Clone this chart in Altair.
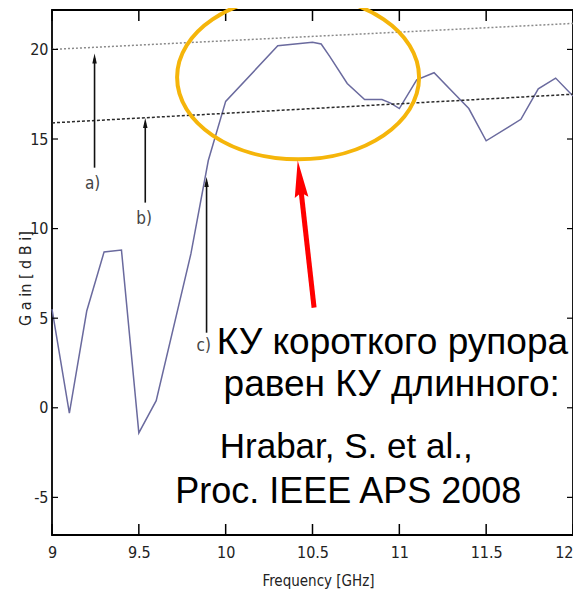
import altair as alt
import pandas as pd

# ---- data ----
freq = [9.0, 9.1, 9.2, 9.3, 9.4, 9.5, 9.6, 9.8, 9.9, 10.0, 10.3, 10.5, 10.55, 10.6,
        10.7, 10.8, 10.9, 10.95, 11.0, 11.1, 11.2, 11.33, 11.4, 11.5, 11.7, 11.8, 11.9, 12.0]
gain = [5.5, -0.3, 5.4, 8.7, 8.8, -1.4, 0.4, 8.6, 13.8, 17.1, 20.2, 20.4, 20.3, 19.6,
        18.1, 17.2, 17.2, 17.0, 16.7, 18.3, 18.7, 17.4, 16.7, 14.9, 16.1, 17.8, 18.4, 17.4]

x_ticks = [9, 9.5, 10, 10.5, 11, 11.5, 12]
y_ticks = [-5, 0, 5, 10, 15, 20]

ref_a_f = [9, 12]
ref_a_g = [20.0, 21.45]
ref_b_f = [9, 12]
ref_b_g = [15.9, 17.5]

arrow_f = [9.245, 9.537, 9.89]
arrow_lo = [13.4, 11.45, 4.19]
arrow_hi = [19.5, 15.9, 12.6]
arrow_labels = ["a)", "b)", "c)"]
label_f = [9.234, 9.531, 9.874]
label_g = [12.5, 10.56, 3.46]

note_lines = ["КУ короткого рупора", "равен КУ длинного:", "Hrabar, S. et al.,", "Proc. IEEE APS 2008"]
note_f = [10.96, 10.956, 10.694, 10.706]
note_g = [3.02, 0.67, -2.79, -5.31]
note_size = [37, 37, 35, 36]

ellipse_f = [10.417]
ellipse_g = [18.44]

red_f = [10.509, 10.434]
red_g = [5.59, 12.12]
red_head_f = [10.426]
red_head_g = [12.77]

W, H = 521, 525
XS = alt.Scale(domain=[9, 12], nice=False, zero=False)
YS = alt.Scale(domain=[-7.1, 22.2], nice=False, zero=False)
NARROW = "Liberation Sans Narrow, DejaVu Sans Condensed, sans-serif"
XTITLE = "Frequency [GHz]"
YTITLE = "G a in  [ d B i]"
LBL = "datum.value < 0 ? '-' + format(-datum.value, '~g') : format(datum.value, '~g')"

curve_df = pd.DataFrame({"f": freq, "g": gain})

curve = alt.Chart(curve_df).mark_line(color="#6a6a9e", strokeWidth=1.5).encode(
    x=alt.X("f:Q", scale=XS, title=XTITLE,
            axis=alt.Axis(values=x_ticks, grid=False, domain=False, labelExpr=LBL,
                          labelAlign=alt.expr("datum.value >= 12 ? 'right' : 'center'"),
                          tickSize=0, labelPadding=9, labelFont=NARROW, labelFontSize=16,
                          labelColor="#222", labelFontWeight="normal",
                          titleFont=NARROW, titleFontSize=15, titleFontWeight="normal",
                          titleColor="#222", titleX=266, titleY=45, titleBaseline="middle",
                          titleAlign="center", labelFlush=False)),
    y=alt.Y("g:Q", scale=YS, title=YTITLE,
            axis=alt.Axis(values=y_ticks, grid=False, domain=False, labelExpr=LBL,
                          tickSize=0, labelPadding=4, labelFont=NARROW, labelFontSize=16,
                          labelColor="#222", titleFont=NARROW, titleFontSize=16,
                          titleFontWeight="normal", titleColor="#222", titleX=-27, titleY=268,
                          titleBaseline="middle", titleAlign="center", titleAngle=270)),
)

def xq():
    return alt.X("f:Q", scale=XS, title=XTITLE)

def yq():
    return alt.Y("g:Q", scale=YS, title=YTITLE)

line_a = alt.Chart(pd.DataFrame({"f": ref_a_f, "g": ref_a_g})).mark_line(
    color="#8a8a8a", strokeWidth=1.5, strokeDash=[2, 2]).encode(x=xq(), y=yq())
line_b = alt.Chart(pd.DataFrame({"f": ref_b_f, "g": ref_b_g})).mark_line(
    color="#2a2a2a", strokeWidth=1.5, strokeDash=[3, 2]).encode(x=xq(), y=yq())

arrows_df = pd.DataFrame({"f": arrow_f, "g": arrow_lo, "g2": arrow_hi})
shafts = alt.Chart(arrows_df).mark_rule(color="#111", strokeWidth=1.6).encode(
    x=xq(), y=yq(), y2="g2:Q")
heads = alt.Chart(pd.DataFrame({"f": arrow_f, "g": arrow_hi})).mark_point(
    shape="M 0 -1 L 0.45 1 L -0.45 1 Z", filled=True, color="#111", size=100, opacity=1
).encode(x=xq(), y=yq())

labels = alt.Chart(pd.DataFrame({"f": label_f, "g": label_g, "t": arrow_labels})).mark_text(
    font=NARROW, fontSize=17, color="#444", baseline="middle", align="center"
).encode(x=xq(), y=yq(), text="t:N")

notes = alt.Chart(pd.DataFrame({"f": note_f, "g": note_g, "t": note_lines, "s": note_size})).mark_text(
    font="Liberation Sans, Arial, sans-serif", color="#000",
    baseline="alphabetic", align="center"
).encode(x=xq(), y=yq(), text="t:N", size=alt.Size("s:Q", scale=None, legend=None))

ellipse = alt.Chart(pd.DataFrame({"f": ellipse_f, "g": ellipse_g})).mark_point(
    shape="M -1.4756 0 A 1.4756 1 0 1 1 1.4756 0 A 1.4756 1 0 1 1 -1.4756 0 Z",
    filled=False, color="#f5b50a", strokeWidth=4, size=26896, opacity=1
).encode(x=xq(), y=yq())

red_shaft = alt.Chart(pd.DataFrame({"f": red_f, "g": red_g})).mark_line(
    color="#ff0000", strokeWidth=5).encode(x=xq(), y=yq())
red_head = alt.Chart(pd.DataFrame({"f": red_head_f, "g": red_head_g})).mark_point(
    shape="M 0 -1 L 0.37 1 L 0 0.75 L -0.37 1 Z", filled=True, color="#ff0000",
    size=1369, angle=354, opacity=1
).encode(x=xq(), y=yq())

xt = pd.DataFrame({"f": x_ticks})
yt = pd.DataFrame({"g": y_ticks})
tick_bottom = alt.Chart(xt).mark_rule(color="#000", strokeWidth=1.5).encode(
    x=xq(), y=alt.value(H), y2=alt.value(H - 11))
tick_top = alt.Chart(xt).mark_rule(color="#000", strokeWidth=1.5).encode(
    x=xq(), y=alt.value(0), y2=alt.value(11))
tick_left = alt.Chart(yt).mark_rule(color="#000", strokeWidth=1.2).encode(
    y=yq(), x=alt.value(0), x2=alt.value(6))
tick_right = alt.Chart(yt).mark_rule(color="#000", strokeWidth=1.2).encode(
    y=yq(), x=alt.value(W), x2=alt.value(W - 6))

chart = alt.layer(
    curve, line_a, line_b, shafts, heads, labels, tick_bottom, tick_top, tick_left, tick_right,
    notes, ellipse, red_shaft, red_head
).properties(
    width=W, height=H,
    autosize=alt.AutoSizeParams(type="none"),
    padding={"left": 44, "top": 2, "right": 0, "bottom": 58},
    background="white",
).configure_view(stroke="#000", strokeWidth=1.8)

chart.save("out.html", embed_options={"renderer": "svg", "actions": False})
